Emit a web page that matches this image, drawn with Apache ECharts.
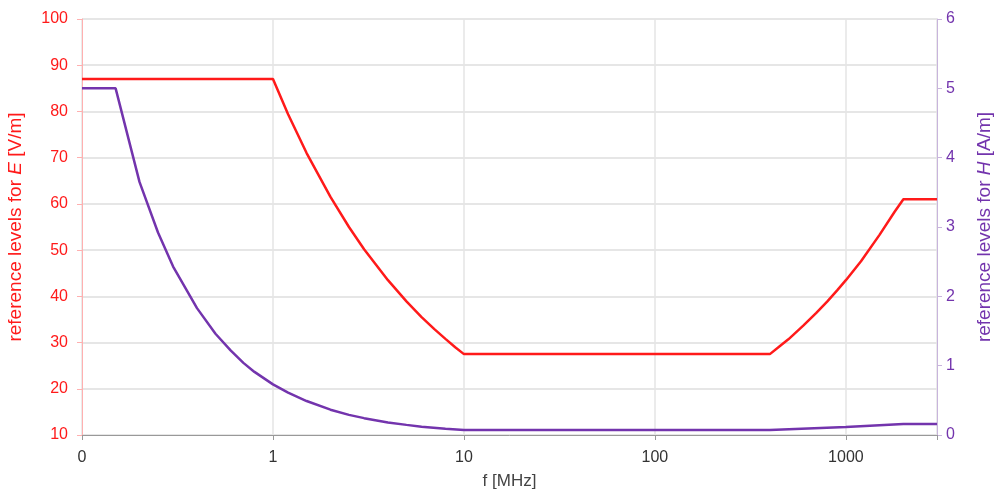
<!DOCTYPE html>
<html>
<head>
<meta charset="utf-8">
<script src="https://cdn.jsdelivr.net/npm/echarts@6/dist/echarts.min.js"></script>
<style>
  html, body { margin: 0; padding: 0; background: #fff; }
  #chart { width: 999px; height: 491px; }
</style>
</head>
<body>
<div id="chart"></div>
<script>
// frequency [MHz] and reference levels
var eFreq  = [0.1, 1, 1.2, 1.5, 2, 2.5, 3, 4, 5, 6, 7, 8, 9, 10, 400, 450, 500, 600, 700, 800, 900, 1000, 1200, 1500, 1800, 2000, 3000];
var eLevel = [87, 87, 79.4, 71, 61.5, 55, 50.2, 43.5, 38.9, 35.5, 32.9, 30.8, 29, 27.5, 27.5, 29.2, 30.7, 33.7, 36.4, 38.9, 41.3, 43.5, 47.6, 53.3, 58.3, 61, 61];

var hFreq  = [0.1, 0.15, 0.2, 0.25, 0.3, 0.4, 0.5, 0.6, 0.7, 0.8, 1, 1.2, 1.5, 2, 2.5, 3, 4, 5, 6, 8, 10, 400, 1000, 2000, 3000];
var hLevel = [5, 5, 3.65, 2.92, 2.43, 1.83, 1.46, 1.22, 1.04, 0.91, 0.73, 0.61, 0.49, 0.365, 0.29, 0.243, 0.18, 0.146, 0.12, 0.09, 0.073, 0.073, 0.117, 0.16, 0.16];

var xTickLabels = {'0.1': '0', '1': '1', '10': '10', '100': '100', '1000': '1000'};

var red = '#ff1a1a';
var purple = '#7334ad';
var font = 'Liberation Sans';

function pairs(xs, ys) {
  var out = [];
  for (var i = 0; i < xs.length; i++) out.push([xs[i], ys[i]]);
  return out;
}

var myChart = echarts.init(document.getElementById('chart'));
var option = {
  animation: false,
  grid: { left: 82, right: 62, top: 19, bottom: 56, outerBoundsMode: 'none', containLabel: false },
  xAxis: {
    type: 'log',
    logBase: 10,
    min: 0.1,
    max: 3000,
    name: 'f [MHz]',
    nameLocation: 'middle',
    nameGap: 38,
    nameTextStyle: { color: '#444', fontSize: 17, fontFamily: font },
    axisLine: { lineStyle: { color: '#999' } },
    axisTick: { show: true, length: 5, lineStyle: { color: '#999' } },
    axisLabel: {
      color: '#333',
      fontSize: 16,
      fontFamily: font,
      margin: 15,
      formatter: function (v) {
        var k = String(Math.round(v * 10) / 10);
        return xTickLabels[k] !== undefined && Math.abs(Math.log10(v) - Math.round(Math.log10(v))) < 1e-6 ? xTickLabels[k] : '';
      }
    },
    splitLine: { show: true, lineStyle: { color: '#e4e4e4', width: 1.5 } },
    minorTick: { show: false },
    minorSplitLine: { show: false }
  },
  yAxis: [
    {
      type: 'value',
      min: 10,
      max: 100,
      interval: 10,
      position: 'left',
      name: 'reference levels for {i|E} [V/m]',
      nameLocation: 'middle',
      nameGap: 57,
      nameRotate: 90,
      nameTextStyle: {
        color: red, fontSize: 19, fontFamily: font,
        rich: { i: { color: red, fontSize: 19, fontFamily: font, fontStyle: 'italic' } }
      },
      axisLine: { show: true, lineStyle: { color: '#ffb0b0' } },
      axisTick: { show: true, length: 5, lineStyle: { color: '#ffb0b0' } },
      axisLabel: { color: red, fontSize: 16, fontFamily: font, margin: 14 },
      splitLine: { show: true, lineStyle: { color: '#dedede', width: 1.5 } }
    },
    {
      type: 'value',
      min: 0,
      max: 6,
      interval: 1,
      position: 'right',
      name: 'reference levels for {i|H} [A/m]',
      nameLocation: 'middle',
      nameGap: 38,
      nameRotate: 90,
      nameTextStyle: {
        color: purple, fontSize: 19, fontFamily: font,
        rich: { i: { color: purple, fontSize: 19, fontFamily: font, fontStyle: 'italic' } }
      },
      axisLine: { show: true, lineStyle: { color: '#c8b4dc' } },
      axisTick: { show: true, length: 5, lineStyle: { color: '#c8b4dc' } },
      axisLabel: { color: purple, fontSize: 16, fontFamily: font, margin: 9 },
      splitLine: { show: false }
    }
  ],
  series: [
    {
      name: 'E',
      type: 'line',
      yAxisIndex: 0,
      data: pairs(eFreq, eLevel),
      symbol: 'none',
      lineStyle: { color: red, width: 2.5 }
    },
    {
      name: 'H',
      type: 'line',
      yAxisIndex: 1,
      data: pairs(hFreq, hLevel),
      symbol: 'none',
      lineStyle: { color: purple, width: 2.5 }
    }
  ]
};
myChart.setOption(option);
</script>
</body>
</html>
